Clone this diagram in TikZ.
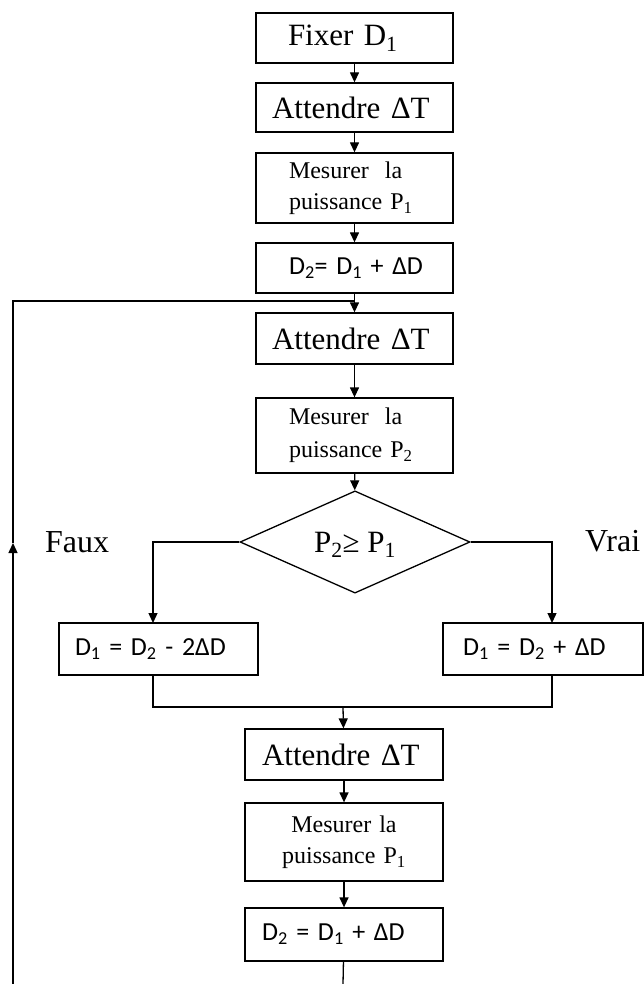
\documentclass[tikz,border=0pt]{standalone}
\usepackage{fontspec}
\setmainfont{Liberation Serif}
\newfontfamily\carl{Carlito}
\usetikzlibrary{arrows.meta,shapes.geometric}
\newcommand{\ind}[1]{\hspace*{#1pt}}
\tikzset{
  box/.style={draw, line width=1.3pt, text width=197pt, inner xsep=0pt, inner ysep=0pt, align=left},
  arr/.style={line width=1.3pt, -{Triangle[length=10pt,width=9pt]}},
  ln/.style={line width=1.3pt},
  big/.style={font=\fontsize{31}{36}\selectfont},
  med/.style={font=\fontsize{24}{31}\selectfont},
  frm/.style={font=\carl\fontsize{26}{30}\selectfont},
}
\begin{document}
\begin{tikzpicture}[x=1pt,y=-1pt]
\useasboundingbox (0,0) rectangle (644,984);
% upper column
\node[box,big,minimum height=50pt] (b1) at (354.5,38) {\ind{32}Fixer D\textsubscript{1}};
\node[box,big,minimum height=49pt] (b2) at (354.5,107.5) {\ind{16}Attendre ΔT};
\node[box,med,minimum height=70pt] (b3) at (354.5,188) {\ind{33}Mesurer~~la\\\ind{33}puissance P\textsubscript{1}};
\node[box,frm,minimum height=50pt] (b4) at (354.5,268) {\ind{33}D\textsubscript{2}= D\textsubscript{1} + ΔD};
\node[box,big,minimum height=51pt] (b5) at (354.5,338.5) {\ind{16}Attendre ΔT};
\node[box,med,minimum height=75pt,font=\fontsize{24}{33}\selectfont] (b6) at (354.5,435.5) {\ind{33}Mesurer~~la\\\ind{33}puissance P\textsubscript{2}};
\node[diamond,draw,line width=1.3pt,minimum width=230pt,minimum height=90pt,inner sep=0pt,
      text depth=0pt,font=\fontsize{31}{36}\selectfont] (d) at (355,542) {P\textsubscript{2}≥ P\textsubscript{1}};
% branches
\node[box,frm,text width=199pt,minimum height=52pt] (b7) at (158.5,649) {\ind{16}D\textsubscript{1} = D\textsubscript{2} - 2ΔD};
\node[box,frm,text width=200pt,minimum height=52pt] (b8) at (543,649) {\ind{20}D\textsubscript{1} = D\textsubscript{2} + ΔD};
% lower column
\node[box,big,text width=198pt,minimum height=51pt] (b9) at (344,754.5) {\ind{17}Attendre ΔT};
\node[box,med,text width=198pt,align=center,minimum height=78pt] (b10) at (344,842) {Mesurer la\\puissance P\textsubscript{1}};
\node[box,frm,text width=198pt,minimum height=53pt] (b11) at (344,934.5) {\ind{17}D\textsubscript{2} = D\textsubscript{1} + ΔD};
% labels
\node[font=\fontsize{32}{36}\selectfont,anchor=base west,inner sep=0pt] (faux) at (45,552) {Faux};
\node[font=\fontsize{32}{36}\selectfont,anchor=base west,inner sep=0pt] (vrai) at (585,551) {Vrai};
% coordinates
\coordinate (jn) at (355,301);
\coordinate (tl) at (13,301);
\coordinate (am) at (13,543);
\coordinate (bl) at (13,984);
\coordinate (lx) at (153,542);
\coordinate (rx) at (552,542);
\coordinate (lb7) at (153,623);
\coordinate (rb8) at (552,623);
\coordinate (ml) at (153,707);
\coordinate (mr) at (552,707);
\coordinate (mm) at (343,707);
\coordinate (bend) at (343,984);
% connectors
\draw[arr] (b1) -- (b2);
\draw[arr] (b2) -- (b3);
\draw[arr] (b3) -- (b4);
\draw[arr] (b4) -- (b5);
\draw[arr] (b5) -- (b6);
\draw[arr] (b6) -- (d);
\draw[arr] (d.west) -- (lx) -- (lb7);
\draw[arr] (d.east) -- (rx) -- (rb8);
\draw[ln] (lb7 |- b7.south) -- (ml) -- (mr) -- (rb8 |- b8.south);
\draw[arr] (mm) -- (b9);
\draw[arr] (b9) -- (b10);
\draw[arr] (b10) -- (b11);
\draw[ln] (b11) -- (bend);
\draw[arr] (bl) -- (am);
\draw[ln] (am) -- (tl) -- (jn);
\end{tikzpicture}
\end{document}
